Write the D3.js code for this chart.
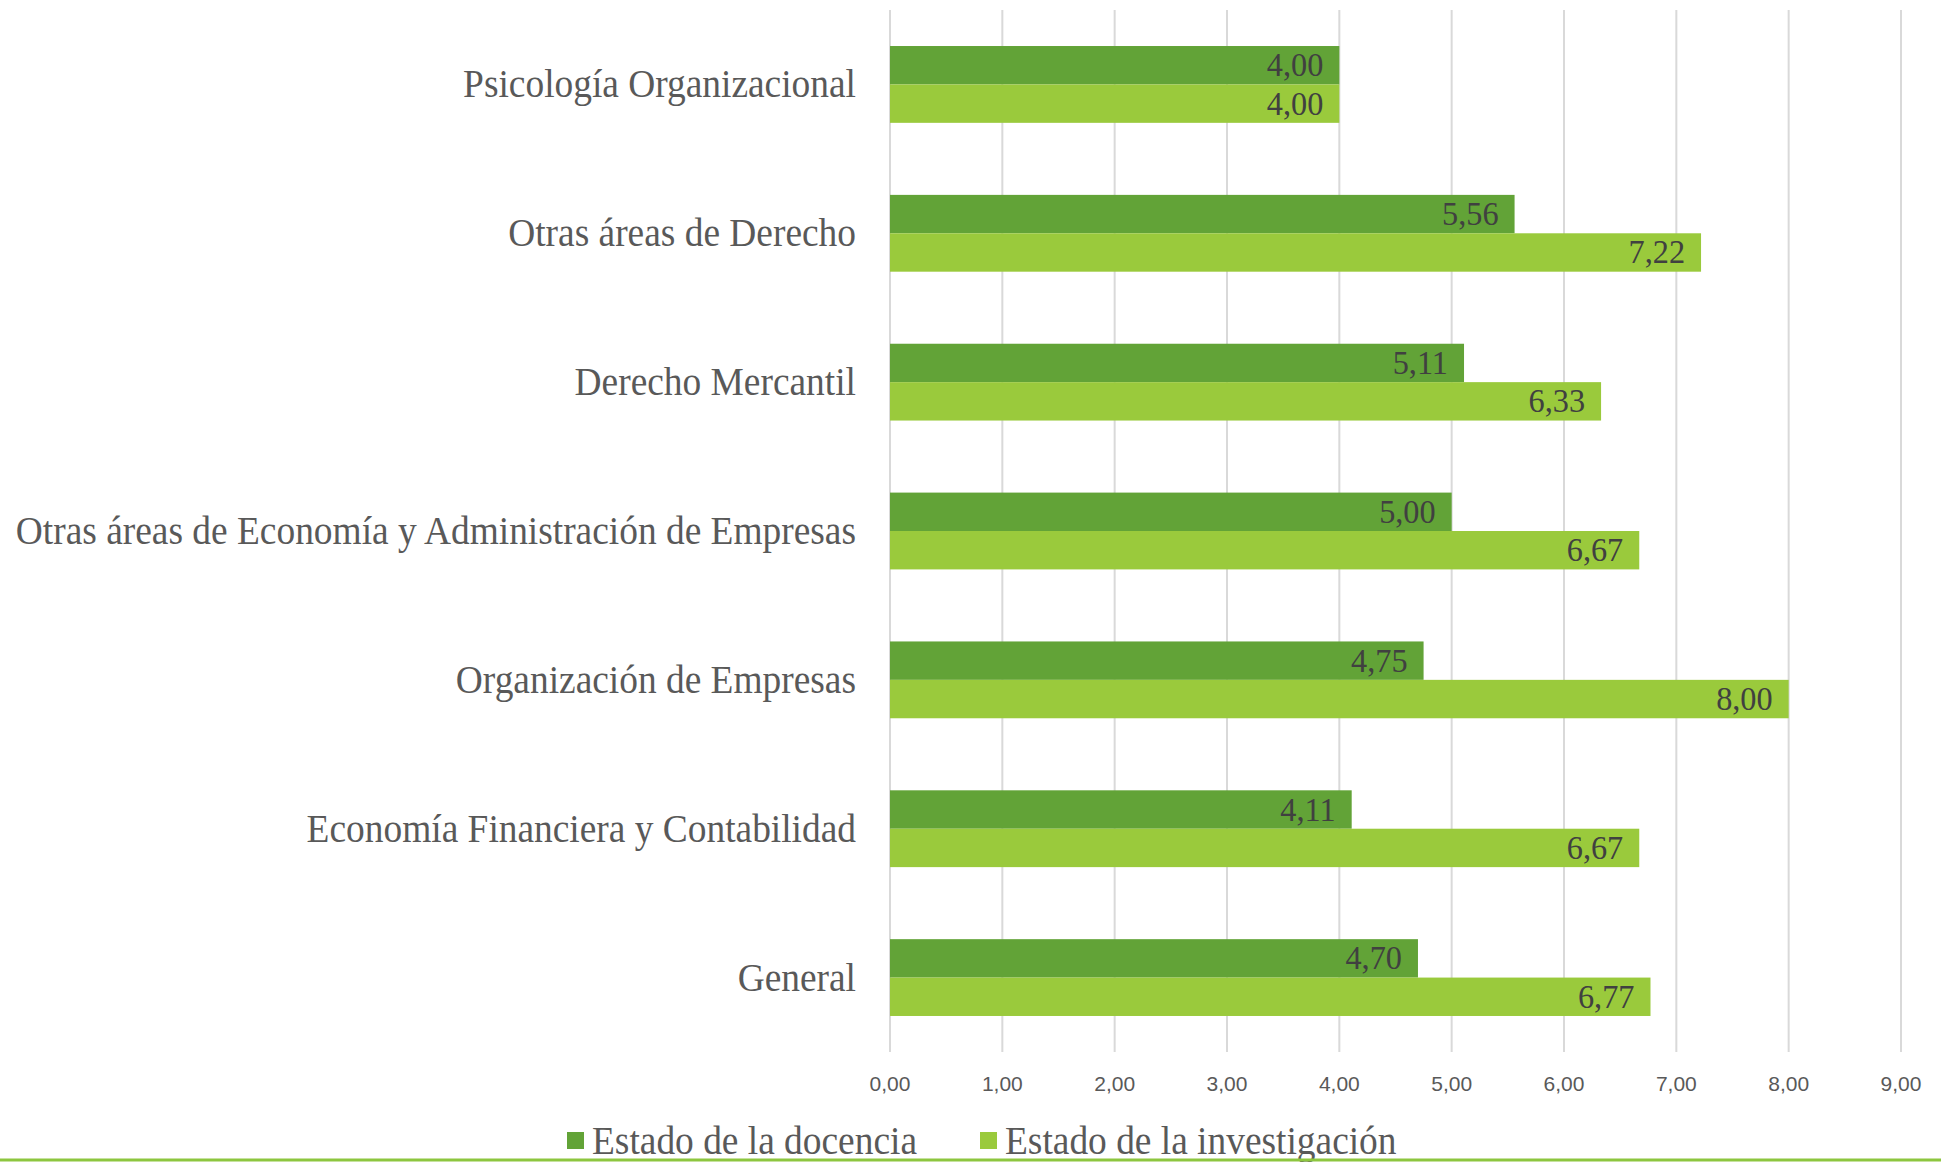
<!DOCTYPE html>
<html>
<head>
<meta charset="utf-8">
<script src="https://cdn.jsdelivr.net/npm/d3@7"></script>
<style>
  body { margin: 0; background: #fff; }
</style>
</head>
<body>
<div id="chart"></div>
<script>
const categories = [
    "Psicología Organizacional",
    "Otras áreas de Derecho",
    "Derecho Mercantil",
    "Otras áreas de Economía y Administración de Empresas",
    "Organización de Empresas",
    "Economía Financiera y Contabilidad",
    "General"
];
const docencia = [4.00, 5.56, 5.11, 5.00, 4.75, 4.11, 4.70];
const investigacion = [4.00, 7.22, 6.33, 6.67, 8.00, 6.67, 6.77];
const seriesNames = ["Estado de la docencia", "Estado de la investigación"];
const tickValues = [0, 1, 2, 3, 4, 5, 6, 7, 8, 9];

const width = 1941, height = 1162;
const colors = ["#62a337", "#9aca3c"];
const serif = "'Liberation Serif', 'Times New Roman', serif";
const narrow = "'Liberation Sans Narrow', 'Liberation Sans', sans-serif";
const squeeze = 0.935; // the original text is a bit condensed

const svg = d3.select("#chart")
    .append("svg")
    .attr("width", width)
    .attr("height", height);

const x = d3.scaleLinear().domain([0, 9]).range([890, 1901]);
const y = d3.scaleBand().domain(categories).range([10, 1052]).paddingInner(0.484).paddingOuter(0.242);
const sub = d3.scaleBand().domain([0, 1]).range([0, y.bandwidth()]);

const fmt = v => d3.format(".2f")(v).replace(".", ",");

// grid lines
svg.append("g")
    .selectAll("line")
    .data(tickValues)
    .enter().append("line")
    .attr("x1", d => x(d)).attr("x2", d => x(d))
    .attr("y1", 10).attr("y2", 1052)
    .attr("stroke", "#d9d9d9")
    .attr("stroke-width", 2);

// tick labels
svg.append("g")
    .selectAll("text")
    .data(tickValues)
    .enter().append("text")
    .attr("x", d => x(d))
    .attr("y", 1091)
    .attr("text-anchor", "middle")
    .style("font-family", narrow)
    .style("font-size", "21px")
    .attr("fill", "#595959")
    .text(d => fmt(d));

const rows = categories.map((c, i) => ({ cat: c, values: [docencia[i], investigacion[i]] }));

const group = svg.append("g")
    .selectAll("g")
    .data(rows)
    .enter().append("g")
    .attr("transform", d => "translate(0," + y(d.cat) + ")");

group.selectAll("rect")
    .data(d => d.values.map((v, k) => ({ v: v, k: k })))
    .enter().append("rect")
    .attr("x", x(0))
    .attr("y", d => sub(d.k))
    .attr("width", d => x(d.v) - x(0))
    .attr("height", sub.bandwidth())
    .attr("fill", d => colors[d.k]);

group.selectAll("text.val")
    .data(d => d.values.map((v, k) => ({ v: v, k: k })))
    .enter().append("text")
    .classed("val", true)
    .attr("text-anchor", "end")
    .attr("transform", d => "translate(" + (x(d.v) - 16) + "," + (sub(d.k) + sub.bandwidth() / 2 + 11) + ") scale(0.95,1)")
    .style("font-family", serif)
    .style("font-size", "34px")
    .attr("fill", "#404040")
    .text(d => fmt(d.v));

// category labels
group.append("text")
    .attr("text-anchor", "end")
    .attr("transform", d => "translate(" + (x(0) - 34) + "," + (y.bandwidth() / 2 + 13) + ") scale(" + squeeze + ",1)")
    .style("font-family", serif)
    .style("font-size", "40px")
    .attr("fill", "#595959")
    .text(d => d.cat);

// legend
const legendX = [567, 980];
const legend = svg.append("g")
    .selectAll("g")
    .data(seriesNames)
    .enter().append("g")
    .attr("transform", (d, i) => "translate(" + legendX[i] + ",1141)");

legend.append("rect")
    .attr("x", 0).attr("y", -9)
    .attr("width", 17).attr("height", 17)
    .attr("fill", (d, i) => colors[i]);

legend.append("text")
    .attr("transform", "translate(25,13) scale(" + squeeze + ",1)")
    .style("font-family", serif)
    .style("font-size", "40px")
    .attr("fill", "#595959")
    .text(d => d);

// green rule at the bottom
svg.append("line")
    .attr("x1", 0).attr("x2", width)
    .attr("y1", 1160).attr("y2", 1160)
    .attr("stroke", "#8dc63f")
    .attr("stroke-width", 3);
</script>
</body>
</html>
